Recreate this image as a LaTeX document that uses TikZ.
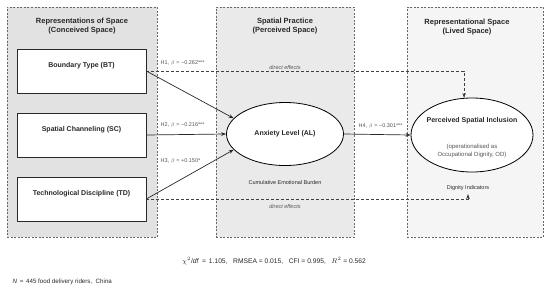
\documentclass[tikz,border=0pt]{standalone}
\usepackage{fontspec}
\setmainfont{Liberation Sans}
\usetikzlibrary{arrows.meta,shapes.geometric,calc}
\definecolor{conceived}{RGB}{226,226,226}
\definecolor{perceived}{RGB}{234,234,234}
\definecolor{lived}{RGB}{245,245,245}
\definecolor{ink}{RGB}{40,40,40}
\definecolor{note}{RGB}{85,85,85}

\begin{document}
\begin{tikzpicture}[x=1pt,y=-1pt,>={Stealth[length=5pt,width=3.6pt]},line join=round,
    panel/.style={draw=black!60,dash pattern=on 2pt off 1.5pt,line width=0.5pt,minimum height=230pt,inner sep=0pt},
    title/.style={font=\bfseries\fontsize{7.5}{9}\selectfont,text=ink,align=center},
    box/.style={draw=ink,fill=white,line width=0.6pt,minimum width=129pt,minimum height=44pt,inner sep=0pt},
    boxtext/.style={font=\bfseries\fontsize{7}{8}\selectfont,text=ink},
    latent/.style={ellipse,draw=black,fill=white,line width=0.8pt,inner sep=0pt},
    small/.style={font=\fontsize{5.5}{6.5}\selectfont,text=note},
    path/.style={->,draw=ink,line width=0.7pt},
    direct/.style={->,draw=black!75,line width=0.6pt,dash pattern=on 3pt off 2pt}]
  \useasboundingbox (0,0) rectangle (550,290);
  % three spaces
  \node[panel,fill=conceived,minimum width=150pt] (conc) at (82,122) {};
  \node[panel,fill=perceived,minimum width=138pt] (perc) at (285,122) {};
  \node[panel,fill=lived,minimum width=136pt] (livd) at (475,122) {};
  \node[title] (conct) at (82,26.5) {Representations of Space\\(Conceived Space)};
  \node[title] (perct) at (285,26.5) {Spatial Practice\\(Perceived Space)};
  \node[title] (livdt) at (467,27.5) {Representational Space\\(Lived Space)};
  % observed constructs
  \node[box] (bt) at (81.5,71) {};
  \node[box] (sc) at (81.5,135) {};
  \node[box] (td) at (81.5,199) {};
  \node[boxtext] (btt) at (81.5,66) {Boundary Type (BT)};
  \node[boxtext] (sct) at (81.5,130) {Spatial Channeling (SC)};
  \node[boxtext] (tdt) at (81.5,194) {Technological Discipline (TD)};
  % latent constructs
  \node[latent,minimum width=117pt,minimum height=63pt] (al) at (285,134) {};
  \node[boxtext] (alt) at (285,134) {Anxiety Level (AL)};
  \node[latent,minimum width=122pt,minimum height=74pt] (psi) at (472,135) {};
  \node[boxtext] (psit) at (472,121) {Perceived Spatial Inclusion};
  \node[small,font=\fontsize{6}{8}\selectfont,align=center] (odt) at (472,151) {(operationalised as\\Occupational Dignity, OD)};
  \node[small,text=ink] (burden) at (285,183) {Cumulative Emotional Burden};
  \node[small,text=ink] (dign) at (468,188) {Dignity Indicators};
  % direct effects
  \draw[direct] (bt.east) -| (psi.102);
  \draw[direct] (td.east) -| (dign.south);
  \node[small,font=\itshape\fontsize{5.5}{6.5}\selectfont] (de1) at (285,68) {direct effects};
  \node[small,font=\itshape\fontsize{5.5}{6.5}\selectfont] (de2) at (285,207) {direct effects};
  % hypothesised paths
  \draw[path] (bt.east) -- (al.163);
  \draw[path] (sc.east) -- (al.west);
  \draw[path] (td.east) -- (al.197);
  \draw[path] (al.east) -- (psi.west);
  \node[small,anchor=west] (h1) at (157,63) {H1, $\beta$ = −0.262***};
  \node[small,anchor=west] (h2) at (157,125) {H2, $\beta$ = −0.216***};
  \node[small,anchor=west] (h3) at (157,161) {H3, $\beta$ = +0.150*};
  \node[small,anchor=west] (h4) at (355,126) {H4, $\beta$ = −0.301***};
  % fit and sample
  \node[small,font=\fontsize{6.7}{8}\selectfont,text=ink] (fit) at (274,261) {$\chi^2$/\textit{df}\, = \,1.105, \ \ RMSEA = 0.015, \ \ CFI = 0.995, \ \ $R^2$ = 0.562};
  \node[small,font=\fontsize{6.2}{8}\selectfont,text=ink,anchor=west] (n) at (9,282) {\textit{N}\, = \,445 food delivery riders, \ China};
\end{tikzpicture}
\end{document}
